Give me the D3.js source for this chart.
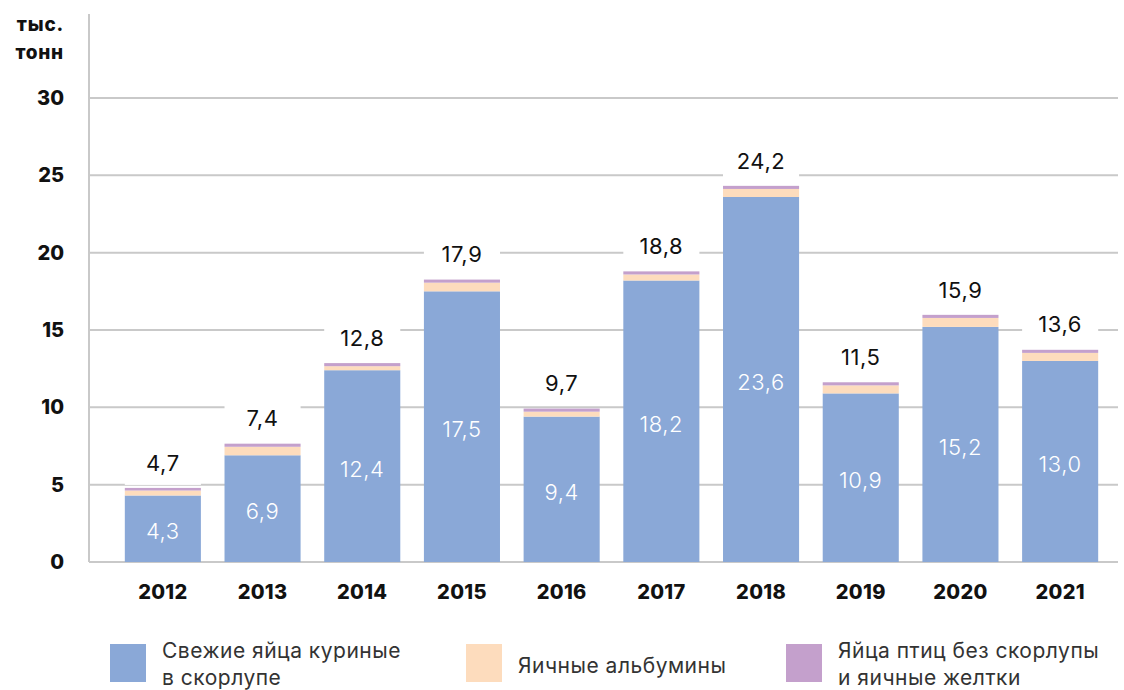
<!DOCTYPE html>
<html><head><meta charset="utf-8">
<script src="https://cdn.jsdelivr.net/npm/d3@7"></script>
<style>body{margin:0;background:#fff}svg{display:block}</style>
</head><body>
<svg id="c" width="1124" height="690"></svg>
<script>
const years = ["2012","2013","2014","2015","2016","2017","2018","2019","2020","2021"];
const fresh = [4.3, 6.9, 12.4, 17.5, 9.4, 18.2, 23.6, 10.9, 15.2, 13.0];
const albumin = [0.32, 0.55, 0.26, 0.56, 0.32, 0.39, 0.52, 0.52, 0.58, 0.52];
const yolks = [0.17, 0.2, 0.2, 0.2, 0.2, 0.2, 0.2, 0.2, 0.2, 0.2];
const totals = [4.7, 7.4, 12.8, 17.9, 9.7, 18.8, 24.2, 11.5, 15.9, 13.6];
const yTicks = [0, 5, 10, 15, 20, 25, 30];
const seriesNames = [["Свежие яйца куриные", "в скорлупе"], ["Яичные альбумины"], ["Яйца птиц без скорлупы", "и яичные желтки"]];
const colors = ["#8aa8d7", "#fddcbd", "#c4a0cc"];

const font = "Inter, 'Open Sans', sans-serif";
const fmt = v => v.toFixed(1).replace(".", ",");
const svg = d3.select("#c");
const y = d3.scaleLinear().domain([0, 30]).range([562, 98]);
const x = d3.scaleBand().domain(years).range([113, 1110]).paddingInner(0.237).paddingOuter(0.1185);

// gridlines
svg.append("g").selectAll("line").data(yTicks).join("line")
  .attr("x1", 89).attr("x2", 1118).attr("y1", d => y(d)).attr("y2", d => y(d))
  .attr("stroke", "#c9c9c9").attr("stroke-width", 2);
svg.append("line").attr("x1", 89).attr("x2", 89).attr("y1", 14).attr("y2", 562)
  .attr("stroke", "#c9c9c9").attr("stroke-width", 2);

// y labels
svg.append("g").selectAll("text").data(yTicks).join("text")
  .attr("x", 64).attr("y", d => y(d)).attr("dy", "0.35em").attr("text-anchor", "end")
  .attr("font-family", font).attr("font-weight", 800).attr("font-size", 20).attr("fill", "#111")
  .text(d => d);
svg.append("text").attr("x", 64).attr("y", 31).attr("text-anchor", "end")
  .attr("font-family", font).attr("font-weight", 800).attr("font-size", 19).attr("letter-spacing", 0.8).attr("fill", "#111").text("тыс.");
svg.append("text").attr("x", 64).attr("y", 59).attr("text-anchor", "end")
  .attr("font-family", font).attr("font-weight", 800).attr("font-size", 19).attr("letter-spacing", 0.8).attr("fill", "#111").text("тонн");

// stacked bars
const rows = years.map((yr, i) => ({year: yr, fresh: fresh[i], albumin: albumin[i], yolks: yolks[i], total: totals[i]}));
const stacked = d3.stack().keys(["fresh", "albumin", "yolks"])(rows);
stacked.forEach((s, si) => {
  svg.append("g").selectAll("rect").data(s).join("rect")
    .attr("x", d => x(d.data.year)).attr("width", x.bandwidth())
    .attr("y", d => y(d[1])).attr("height", d => y(d[0]) - y(d[1]))
    .attr("fill", colors[si]);
});

// total labels with white boxes
const topLayer = stacked[2];
svg.append("g").selectAll("rect").data(topLayer).join("rect")
  .attr("x", d => x(d.data.year)).attr("width", x.bandwidth())
  .attr("y", d => y(d[1]) - 38).attr("height", 35).attr("fill", "#fff");
svg.append("g").selectAll("text").data(topLayer).join("text")
  .attr("x", d => x(d.data.year) + x.bandwidth() / 2).attr("y", d => y(d[1]) - 25)
  .attr("dy", "0.35em").attr("text-anchor", "middle")
  .attr("font-family", font).attr("font-size", 22).attr("letter-spacing", 0.6).attr("fill", "#111")
  .text(d => fmt(d.data.total));

// inside labels
svg.append("g").selectAll("text").data(stacked[0]).join("text")
  .attr("x", d => x(d.data.year) + x.bandwidth() / 2).attr("y", d => (y(d[0]) + y(d[1])) / 2 + 3)
  .attr("dy", "0.35em").attr("text-anchor", "middle")
  .attr("font-family", font).attr("font-weight", 300).attr("font-size", 22).attr("letter-spacing", 0.6).attr("fill", "#fff")
  .text(d => fmt(d.data.fresh));

// x labels
svg.append("g").selectAll("text").data(years).join("text")
  .attr("x", d => x(d) + x.bandwidth() / 2).attr("y", 592).attr("dy", "0.35em").attr("text-anchor", "middle")
  .attr("font-family", font).attr("font-weight", 800).attr("font-size", 20).attr("letter-spacing", 0.3).attr("fill", "#111")
  .text(d => d);

// legend
const legX = [110, 466, 786];
seriesNames.forEach((lines, i) => {
  const g = svg.append("g");
  g.append("rect").attr("x", legX[i]).attr("y", 644).attr("width", 36).attr("height", 38).attr("fill", colors[i]);
  const t = g.append("text").attr("font-family", font).attr("font-size", 21).attr("letter-spacing", 0.5).attr("fill", "#333");
  if (lines.length === 1) {
    t.append("tspan").attr("x", legX[i] + 52).attr("y", 666).attr("dy", "0.35em").text(lines[0]);
  } else {
    lines.forEach((l, j) => t.append("tspan").attr("x", legX[i] + 52).attr("y", 651 + j * 27).attr("dy", "0.35em").text(l));
  }
});
</script>
</body></html>
